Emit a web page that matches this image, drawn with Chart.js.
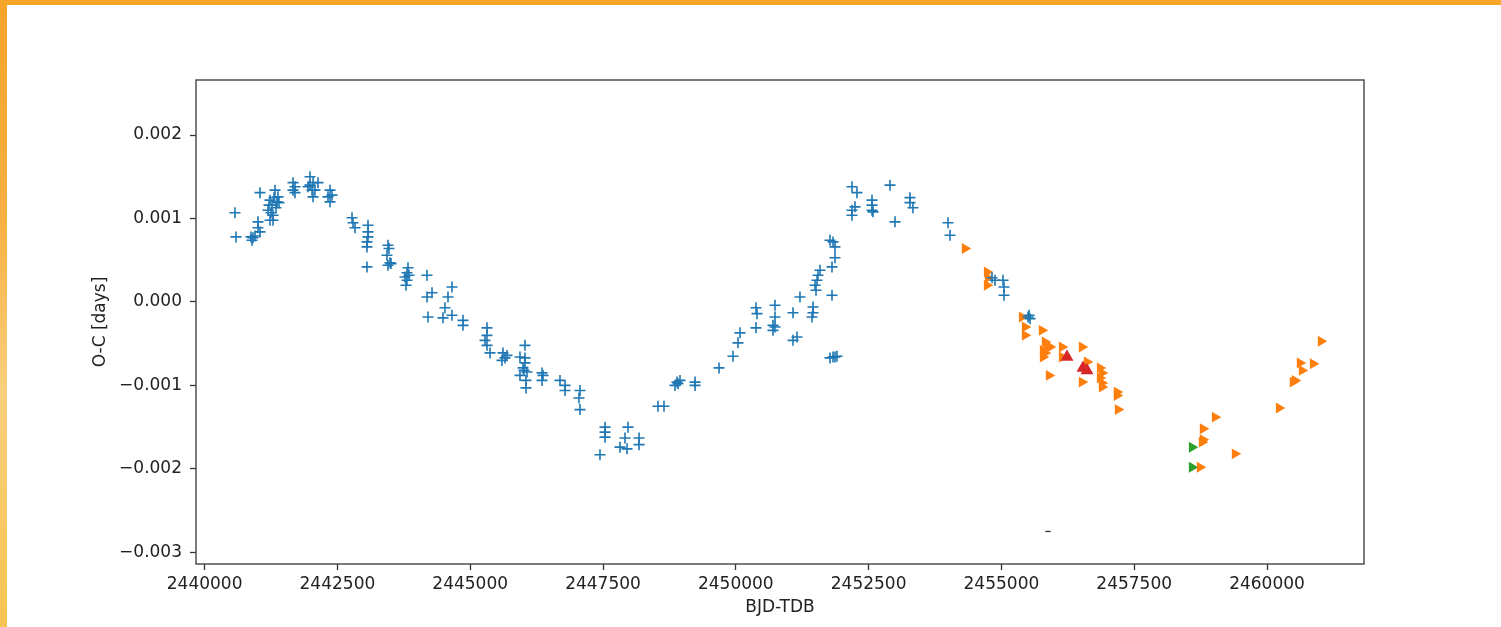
<!DOCTYPE html>
<html>
<head>
<meta charset="utf-8">
<script src="https://cdn.jsdelivr.net/npm/chart.js@4.4.1/dist/chart.umd.min.js"></script>
<style>
  html, body { margin: 0; padding: 0; width: 1501px; height: 627px; overflow: hidden; background: #fff; }
  #top { position: absolute; left: 0; top: 0; width: 1501px; height: 5px; background: #f8a62a; }
  #left { position: absolute; left: 0; top: 0; width: 7px; height: 627px;
          background: linear-gradient(to bottom, #f6a42a 0%, #f7b043 35%, #f9cf7c 62%, #f6c452 100%); }
  #wrap { position: absolute; left: 7px; top: 5px; width: 1494px; height: 622px; background: #fff; }
</style>
</head>
<body>
<div id="top"></div>
<div id="left"></div>
<div id="wrap"><canvas id="myChart" width="1494" height="622"></canvas></div>
<script>
// axis ticks
const xTicks = [2440000, 2442500, 2445000, 2447500, 2450000, 2452500, 2455000, 2457500, 2460000];
const yTicks = [-0.003, -0.002, -0.001, 0.000, 0.001, 0.002];

// blue "+" series
const blueJD = [
  2440572, 2440591, 2440873, 2440892, 2440911, 2440949, 2441005, 2441005, 2441043, 2441043,
  2441194, 2441231, 2441231, 2441269, 2441288, 2441306, 2441325, 2441344, 2441363, 2441382,
  2441288, 2441400, 2441250, 2441212, 2441664, 2441664, 2441702, 2441702, 2441984, 2441947,
  2442041, 2442078, 2442041, 2441984, 2442022, 2442135, 2442361, 2442323, 2442361, 2442398,
  2442775, 2442794, 2442831, 2443076, 2443076, 2443076, 2443057, 2443057, 2443057, 2443452,
  2443471, 2443433, 2443490, 2443452, 2443509, 2443829, 2443810, 2443772, 2443810, 2443791,
  2443848, 2444187, 2444187, 2444281, 2444205, 2444657, 2444582, 2444525, 2444488, 2444657,
  2444864, 2444864, 2445316, 2445316, 2445279, 2445316, 2445373, 2445617, 2445598, 2445693,
  2445655, 2446031, 2445937, 2446031, 2446031, 2445994, 2445937, 2446069, 2446050, 2446050,
  2446012, 2446352, 2446352, 2446371, 2446690, 2446785, 2446785, 2447067, 2447048, 2447067,
  2447538, 2447538, 2447538, 2447443, 2447970, 2447914, 2447820, 2447952, 2448178, 2448178,
  2448535, 2448648, 2448893, 2448950, 2448855, 2448912, 2449232, 2449232, 2449684, 2449947,
  2450041, 2450079, 2450380, 2450399, 2450380, 2450738, 2450738, 2450700, 2450738, 2450700,
  2451077, 2451077, 2451152, 2451208, 2451453, 2451453, 2451434, 2451491, 2451529, 2451547,
  2451585, 2451510, 2451811, 2451811, 2451867, 2451773, 2451830, 2451867, 2451773, 2451830,
  2451867, 2451905, 2452187, 2452281, 2452244, 2452187, 2452187, 2452564, 2452564, 2452564,
  2452583, 2452903, 2452997, 2453279, 2453279, 2453335, 2453995, 2454033, 2454823, 2454880,
  2455030, 2455049, 2455049, 2455501, 2455539, 2455520
];
const blueOC = [
  0.00107, 0.00078, 0.00078, 0.00074, 0.00077, 0.00079, 0.00096, 0.00089, 0.00084, 0.00131,
  0.00110, 0.00122, 0.00098, 0.00116, 0.00104, 0.00125, 0.00134, 0.00113, 0.00120, 0.00126,
  0.00098, 0.00119, 0.00107, 0.00116, 0.00143, 0.00134, 0.00138, 0.00131, 0.00150, 0.00138,
  0.00143, 0.00134, 0.00126, 0.00140, 0.00134, 0.00143, 0.00134, 0.00126, 0.00120, 0.00128,
  0.00101, 0.00095, 0.00089, 0.00092, 0.00084, 0.00078, 0.00072, 0.00066, 0.00042, 0.00068,
  0.00064, 0.00056, 0.00047, 0.00044, 0.00046, 0.00041, 0.00035, 0.00030, 0.00026, 0.00020,
  0.00032, 0.00032, 0.00006, 0.00011, -0.00018, 0.00018, 0.00006, -0.00007, -0.00019, -0.00016,
  -0.00022, -0.00028, -0.00031, -0.00040, -0.00046, -0.00052, -0.00061, -0.00061, -0.00070, -0.00064,
  -0.00067, -0.00052, -0.00066, -0.00067, -0.00073, -0.00079, -0.00088, -0.00084, -0.00094, -0.00103,
  -0.00082, -0.00085, -0.00094, -0.00088, -0.00094, -0.00100, -0.00106, -0.00106, -0.00115, -0.00129,
  -0.00150, -0.00156, -0.00162, -0.00183, -0.00150, -0.00163, -0.00174, -0.00176, -0.00163, -0.00171,
  -0.00125, -0.00125, -0.00096, -0.00094, -0.00100, -0.00098, -0.00096, -0.00100, -0.00079, -0.00065,
  -0.00049, -0.00037, -0.00007, -0.00014, -0.00031, -0.00004, -0.00018, -0.00028, -0.00030, -0.00034,
  -0.00013, -0.00046, -0.00042, 0.00006, -0.00006, -0.00013, -0.00018, 0.00020, 0.00026, 0.00032,
  0.00038, 0.00014, 0.00008, 0.00042, 0.00053, 0.00074, 0.00072, 0.00066, -0.00067, -0.00066,
  -0.00066, -0.00065, 0.00138, 0.00131, 0.00114, 0.00110, 0.00104, 0.00122, 0.00116, 0.00110,
  0.00108, 0.00140, 0.00096, 0.00125, 0.00119, 0.00113, 0.00095, 0.00080, 0.00029, 0.00026,
  0.00026, 0.00018, 0.00008, -0.00018, -0.00020, -0.00016
];

// orange right-pointing triangles
const orangeJD = [
  2454314, 2454729, 2454729, 2454748, 2455388, 2455445, 2455445, 2455764, 2455821, 2455859,
  2455915, 2455783, 2455821, 2455783, 2456141, 2456141, 2456517, 2456611, 2456856, 2456894,
  2456856, 2456894, 2456894, 2455896, 2456517, 2457176, 2457176, 2457195, 2461016, 2460621,
  2460658, 2460866, 2460527, 2460489, 2460226, 2459021, 2458795, 2458776, 2458795, 2459397,
  2458738
];
const orangeOC = [
  0.00064, 0.00036, 0.00020, 0.00029, -0.00018, -0.00030, -0.00040, -0.00034, -0.00048, -0.00052,
  -0.00054, -0.00058, -0.00061, -0.00066, -0.00054, -0.00066, -0.00054, -0.00072, -0.00079, -0.00085,
  -0.00091, -0.00097, -0.00102, -0.00088, -0.00096, -0.00108, -0.00112, -0.00129, -0.00047, -0.00073,
  -0.00082, -0.00074, -0.00094, -0.00096, -0.00127, -0.00138, -0.00152, -0.00168, -0.00165, -0.00182,
  -0.00198
];

// green right-pointing triangles
const greenJD = [2458588, 2458588];
const greenOC = [-0.00174, -0.00198];

// red up triangles
const redJD = [2456235, 2456536, 2456611];
const redOC = [-0.00066, -0.00079, -0.00082];

// lone dash
const dashJD = [2455877];
const dashOC = [-0.00275];

const pts = (xs, ys) => xs.map((x, i) => ({ x: x, y: ys[i] }));
const fmt = v => (v < 0 ? '\u2212' : '') + Math.abs(v).toFixed(3);
const font = { family: 'DejaVu Sans', size: 17 };

const frame = {
  id: 'frame',
  afterDraw(chart) {
    const a = chart.chartArea;
    const ctx = chart.ctx;
    ctx.save();
    ctx.strokeStyle = '#444';
    ctx.lineWidth = 1.4;
    ctx.strokeRect(a.left, a.top, a.right - a.left, a.bottom - a.top);
    ctx.restore();
  }
};

const ctx = document.getElementById('myChart').getContext('2d');
const myChart = new Chart(ctx, {
  type: 'scatter',
  data: {
    datasets: [
      { data: pts(blueJD, blueOC), pointStyle: 'cross', pointRadius: 5.5,
        borderColor: '#1f77b4', backgroundColor: '#1f77b4', pointBorderWidth: 1.6 },
      { data: pts(redJD, redOC), pointStyle: 'triangle', pointRadius: 7.5,
        backgroundColor: '#d62728', borderColor: '#d62728', pointBorderWidth: 0 },
      { data: pts(orangeJD, orangeOC), pointStyle: 'triangle', pointRadius: 6.3, rotation: 90,
        backgroundColor: '#ff7f0e', borderColor: '#ff7f0e', pointBorderWidth: 0 },
      { data: pts(greenJD, greenOC), pointStyle: 'triangle', pointRadius: 6.3, rotation: 90,
        backgroundColor: '#2ca02c', borderColor: '#2ca02c', pointBorderWidth: 0 },
      { data: pts(dashJD, dashOC), pointStyle: 'line', pointRadius: 2.7,
        borderColor: '#333', backgroundColor: '#333', pointBorderWidth: 1.3 }
    ]
  },
  options: {
    responsive: false,
    animation: false,
    devicePixelRatio: 1,
    layout: { padding: { left: 0, top: 75, right: 137, bottom: 0 } },
    plugins: { legend: { display: false }, tooltip: { enabled: false } },
    scales: {
      x: {
        type: 'linear',
        min: 2439838,
        max: 2461826,
        afterFit: s => { s.height = 63; },
        afterBuildTicks: s => { s.ticks = xTicks.map(v => ({ value: v })); },
        grid: { drawOnChartArea: false, drawTicks: true, tickLength: 6, tickWidth: 1.3, tickColor: '#333' },
        border: { display: false },
        ticks: { font: font, color: '#222', padding: 4, maxRotation: 0, autoSkip: false,
                 callback: v => String(v) },
        title: { display: true, text: 'BJD-TDB', font: font, color: '#222', padding: { top: 0, bottom: 9 } }
      },
      y: {
        type: 'linear',
        min: -0.00314,
        max: 0.00266,
        afterFit: s => { s.width = 189; },
        afterBuildTicks: s => { s.ticks = yTicks.map(v => ({ value: v })); },
        grid: { drawOnChartArea: false, drawTicks: true, tickLength: 6, tickWidth: 1.3, tickColor: '#333' },
        border: { display: false },
        ticks: { font: font, color: '#222', padding: 8, autoSkip: false, callback: v => fmt(v) },
        title: { display: true, text: 'O-C [days]', font: font, color: '#222', padding: { top: 83, bottom: 0 } }
      }
    }
  },
  plugins: [frame]
});
</script>
</body>
</html>
